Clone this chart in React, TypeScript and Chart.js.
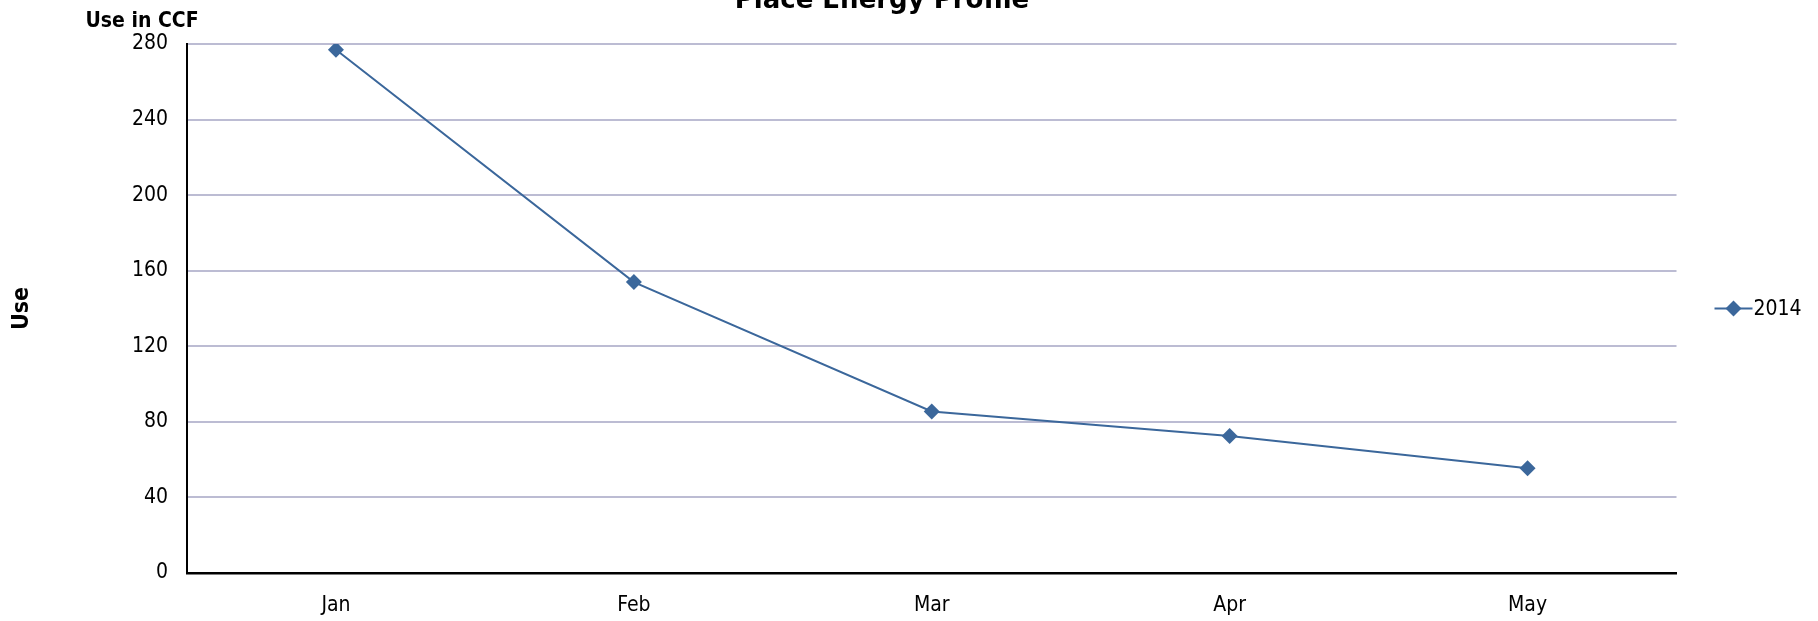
import React, { useEffect, useRef } from 'react';
import { Chart, registerables } from 'chart.js';

Chart.register(...registerables);

// ---- data ----
const categories = ['Jan', 'Feb', 'Mar', 'Apr', 'May'];
const seriesLabel = '2014';
const values2014 = [277, 154, 85.5, 72.5, 55.5];
const yTicks = [0, 40, 80, 120, 160, 200, 240, 280];
const chartTitle = 'Place Energy Profile';
const unitLabel = 'Use in CCF';
const yAxisTitle = 'Use';

// ---- style ----
const LINE_COLOR = '#3b679b';
const GRID_COLOR = '#bcbcd3';

function hasFont(name: string): boolean {
  const c = document.createElement('canvas').getContext('2d');
  if (!c) return false;
  const s = 'mmmmmmmmmmlli1WWw 0123456789';
  c.font = '40px monospace';
  const w1 = c.measureText(s).width;
  c.font = `40px "${name}", monospace`;
  const w2 = c.measureText(s).width;
  return Math.abs(w1 - w2) > 0.5;
}

export default function App() {
  const ref = useRef<HTMLCanvasElement | null>(null);

  useEffect(() => {
    document.body.style.margin = '0';
    document.body.style.overflow = 'hidden';
    const canvas = ref.current;
    if (!canvas) return;

    const cond = hasFont('DejaVu Sans Condensed');
    const FONT = cond ? '"DejaVu Sans Condensed", "DejaVu Sans", sans-serif' : '"DejaVu Sans", sans-serif';
    const TITLE_FONT = '"DejaVu Sans", sans-serif';
    const REG = cond ? 21 : 19;
    const BOLD = cond ? 21 : 19;
    const YT = cond ? 23 : 21;

    const decorPlugin = {
      id: 'decor',
      afterDraw(chart: any) {
        const ctx = chart.ctx as CanvasRenderingContext2D;
        const area = chart.chartArea;
        ctx.save();
        ctx.fillStyle = '#000';
        ctx.textAlign = 'center';
        ctx.textBaseline = 'alphabetic';
        ctx.font = `bold 26px ${TITLE_FONT}`;
        ctx.fillText(chartTitle, 882, 7.5);
        ctx.font = `bold ${BOLD}px ${FONT}`;
        ctx.fillText(unitLabel, 142, 27);

        // legend (line + diamond + label)
        const ds = chart.data.datasets[0];
        const cy = (area.top + area.bottom) / 2;
        const x0 = area.right + 38;
        const x1 = area.right + 76;
        const cx = (x0 + x1) / 2;
        ctx.strokeStyle = ds.borderColor;
        ctx.lineWidth = 2;
        ctx.beginPath();
        ctx.moveTo(x0, cy);
        ctx.lineTo(x1, cy);
        ctx.stroke();
        const r = 8;
        ctx.fillStyle = ds.backgroundColor;
        ctx.beginPath();
        ctx.moveTo(cx, cy - r);
        ctx.lineTo(cx + r, cy);
        ctx.lineTo(cx, cy + r);
        ctx.lineTo(cx - r, cy);
        ctx.closePath();
        ctx.fill();
        ctx.fillStyle = '#000';
        ctx.font = `${REG}px ${FONT}`;
        ctx.textAlign = 'left';
        ctx.textBaseline = 'middle';
        ctx.fillText(ds.label, x1 + 1, cy + 1);
        ctx.restore();
      },
    };

    const chart = new Chart(canvas, {
      type: 'line',
      data: {
        labels: categories,
        datasets: [
          {
            label: seriesLabel,
            data: values2014,
            borderColor: LINE_COLOR,
            backgroundColor: LINE_COLOR,
            borderWidth: 2,
            pointStyle: 'rectRot',
            pointRadius: 8,
            pointBorderWidth: 0,
            pointBackgroundColor: LINE_COLOR,
            pointBorderColor: LINE_COLOR,
            tension: 0,
            fill: false,
          },
        ],
      },
      options: {
        responsive: false,
        animation: false,
        devicePixelRatio: 1,
        layout: { padding: { top: 44, right: 141.5, left: 0, bottom: 0 } },
        plugins: {
          legend: { display: false },
          title: { display: false },
          tooltip: { enabled: false },
        },
        scales: {
          x: {
            offset: true,
            grid: { display: false, drawTicks: false },
            border: { display: true, color: '#000', width: 2.5 },
            ticks: {
              color: '#000',
              font: { family: FONT, size: REG },
              padding: 20,
              maxRotation: 0,
            },
            afterFit: (s: any) => {
              s.height = 48;
            },
          },
          y: {
            min: 0,
            max: 280,
            afterBuildTicks: (s: any) => {
              s.ticks = yTicks.map((v) => ({ value: v }));
            },
            grid: { color: GRID_COLOR, lineWidth: 2, drawTicks: false },
            border: { display: true, color: '#000', width: 2 },
            ticks: {
              color: '#000',
              font: { family: FONT, size: REG },
              padding: 19,
            },
            title: {
              display: true,
              text: yAxisTitle,
              color: '#000',
              font: { family: FONT, size: YT, weight: 'bold' },
              padding: { top: 8, bottom: 0 },
            },
            afterFit: (s: any) => {
              s.width = 187;
            },
          },
        },
      },
      plugins: [decorPlugin],
    });
    return () => chart.destroy();
  }, []);

  return (
    <div style={{ width: 1818, height: 621 }}>
      <canvas ref={ref} width={1818} height={621} style={{ display: 'block', width: 1818, height: 621 }} />
    </div>
  );
}
